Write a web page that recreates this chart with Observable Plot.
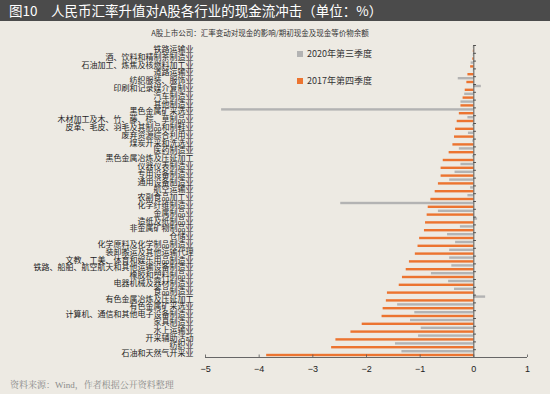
<!DOCTYPE html>
<html><head><meta charset="utf-8">
<script src="https://cdn.jsdelivr.net/npm/d3@7"></script>
<script src="https://cdn.jsdelivr.net/npm/@observablehq/plot@0.6"></script>
<style>
html,body{margin:0;padding:0;background:#edeae3;}
#wrap{position:relative;width:550px;height:394px;overflow:hidden;background:#edeae3;font-family:"Noto Sans CJK SC",sans-serif;}
#title{position:absolute;left:0;top:0;width:550px;height:21px;background:#4b4b4b;color:#fff;font-size:13.5px;line-height:21px;padding-left:9px;box-sizing:border-box;white-space:nowrap;}
#subtitle{position:absolute;left:0;width:520px;top:27px;text-align:center;font-size:7.5px;line-height:11px;color:#333;white-space:nowrap;}
#chart{position:absolute;left:0;top:22px;}
.leg{position:absolute;font-size:9px;color:#333;line-height:11px;white-space:nowrap;}
.leg span{display:inline-block;width:6px;height:6px;margin-right:4px;}
#source{position:absolute;left:10px;top:379px;font-size:9px;line-height:12px;color:#8a8a8a;font-family:"Liberation Serif","Noto Serif CJK SC","Noto Sans CJK SC",serif;white-space:nowrap;}
</style></head>
<body>
<div id="wrap">
  <div id="title"></div>
  <div id="subtitle"></div>
  <div id="chart"></div>
  <div id="leg1" class="leg" style="left:297px;top:48px;"></div>
  <div id="leg2" class="leg" style="left:297px;top:75px;"></div>
  <div id="source"></div>
</div>
<script>
const titleText = "图10　人民币汇率升值对A股各行业的现金流冲击（单位：%）";
const subtitleText = "A股上市公司：汇率变动对现金的影响/期初现金及现金等价物余额";
const sourceText = "资料来源：Wind，作者根据公开资料整理";
const seriesNames = ["2020年第三季度", "2017年第四季度"];
const seriesColors = ["#b3b3b3", "#ec7430"];

const categories = [
  "铁路运输业",
  "酒、饮料和精制茶制造业",
  "石油加工、炼焦及核燃料加工业",
  "道路运输业",
  "纺织服装、服饰业",
  "印刷和记录媒介复制业",
  "汽车制造业",
  "其他制造业",
  "黑色金属矿采选业",
  "木材加工及木、竹、藤、棕、草制品业",
  "皮革、毛皮、羽毛及其制品和制鞋业",
  "废弃资源综合利用业",
  "煤炭开采和洗选业",
  "医药制造业",
  "黑色金属冶炼及压延加工",
  "仪器仪表制造业",
  "专用设备制造业",
  "通用设备制造业",
  "航空运输业",
  "农副食品加工业",
  "化学纤维制造业",
  "金属制品业",
  "造纸及纸制品业",
  "非金属矿物制品业",
  "仓储业",
  "化学原料及化学制品制造业",
  "装卸搬运及其他运输代理",
  "文教、工美、体育和娱乐用品制造业",
  "铁路、船舶、航空航天和其他运输设备制造业",
  "橡胶和塑料制品业",
  "电器机械及器材制造业",
  "食品制造业",
  "有色金属冶炼及压延加工",
  "有色金属矿采选业",
  "计算机、通信和其他电子设备制造业",
  "家具制造业",
  "水上运输业",
  "开采辅助活动",
  "纺织业",
  "石油和天然气开采业"
];

const q3_2020 = [
  -0.01, -0.01, -0.05, -0.01, -0.29, 0.14, -0.17, -0.24, -4.70, -0.11,
  -0.02, -0.10, -0.02, -0.27, -0.02, -0.24, -0.35, -0.45, -0.06, -0.11,
  -2.48, -0.66, 0.07, -0.25, -0.49, -0.34, -0.45, -0.45, -0.41, -0.79,
  -0.47, -0.36, 0.22, -1.42, -1.10, -1.18, -0.98, -1.03, -1.46, -1.34
];

const q4_2017 = [
  -0.01, -0.02, -0.06, -0.11, -0.13, -0.16, -0.20, -0.24, -0.27, -0.31,
  -0.34, -0.36, -0.39, -0.46, -0.57, -0.61, -0.61, -0.66, -0.72, -0.80,
  -0.85, -0.87, -0.90, -0.92, -1.01, -1.04, -1.09, -1.20, -1.26, -1.33,
  -1.39, -1.61, -1.63, -1.69, -1.71, -2.08, -2.29, -2.57, -2.65, -3.86
];

const xTicks = [-5, -4, -3, -2, -1, 0, 1];

document.getElementById("title").textContent = titleText;
document.getElementById("subtitle").textContent = subtitleText;
document.getElementById("source").textContent = sourceText;
[["leg1", 0], ["leg2", 1]].forEach(([id, k]) => {
  const el = document.getElementById(id);
  const sw = document.createElement("span");
  sw.style.background = seriesColors[k];
  el.appendChild(sw);
  el.appendChild(document.createTextNode(seriesNames[k]));
});

const rowsA = categories.map((c, i) => ({category: c, value: q3_2020[i]}));
const rowsB = categories.map((c, i) => ({category: c, value: q4_2017[i]}));

const H = 358, mT = 23, mB = 23;
const rowH = (H - mT - mB) / categories.length;
const lastCat = categories[categories.length - 1];
const fmt = d => d < 0 ? "\u2212" + (-d) : String(d);

const chart = Plot.plot({
  width: 550,
  height: H,
  marginTop: mT,
  marginBottom: mB,
  marginLeft: 205,
  marginRight: 23,
  style: {background: "transparent", fontFamily: "'Noto Sans CJK SC', sans-serif", fontSize: "8px", color: "#222"},
  x: {domain: [xTicks[0], xTicks[xTicks.length - 1]], label: null},
  y: {domain: categories, padding: 0, label: null},
  marks: [
    Plot.barX(rowsA, {x: "value", y: "category", fill: seriesColors[0], insetTop: 0.8, insetBottom: rowH - 3.2}),
    Plot.barX(rowsB, {x: "value", y: "category", fill: seriesColors[1], insetTop: rowH - 3.2, insetBottom: 0.8}),
    Plot.ruleX([0], {stroke: "#333", strokeWidth: 0.8}),
    Plot.ruleY(categories, {y: d => d, x1: 0, x2: 0.05, dy: -rowH / 2, stroke: "#333", strokeWidth: 0.8}),
    Plot.ruleY([lastCat], {y: d => d, x1: xTicks[0], x2: xTicks[xTicks.length - 1], dy: rowH / 2, stroke: "#666", strokeWidth: 1}),
    Plot.tickX(xTicks, {x: d => d, y: () => lastCat, insetTop: rowH - 2.5, stroke: "#555", strokeWidth: 0.8}),
    Plot.axisY({tickSize: 0, tickPadding: 12, label: null, fill: "#222", fontSize: 8}),
    Plot.axisX({ticks: xTicks, tickFormat: fmt, tickSize: 0, tickPadding: 8, label: null, fontSize: 9, fill: "#222", fontFamily: "'Liberation Sans', sans-serif"})
  ]
});
document.getElementById("chart").appendChild(chart);
</script>
</body></html>
